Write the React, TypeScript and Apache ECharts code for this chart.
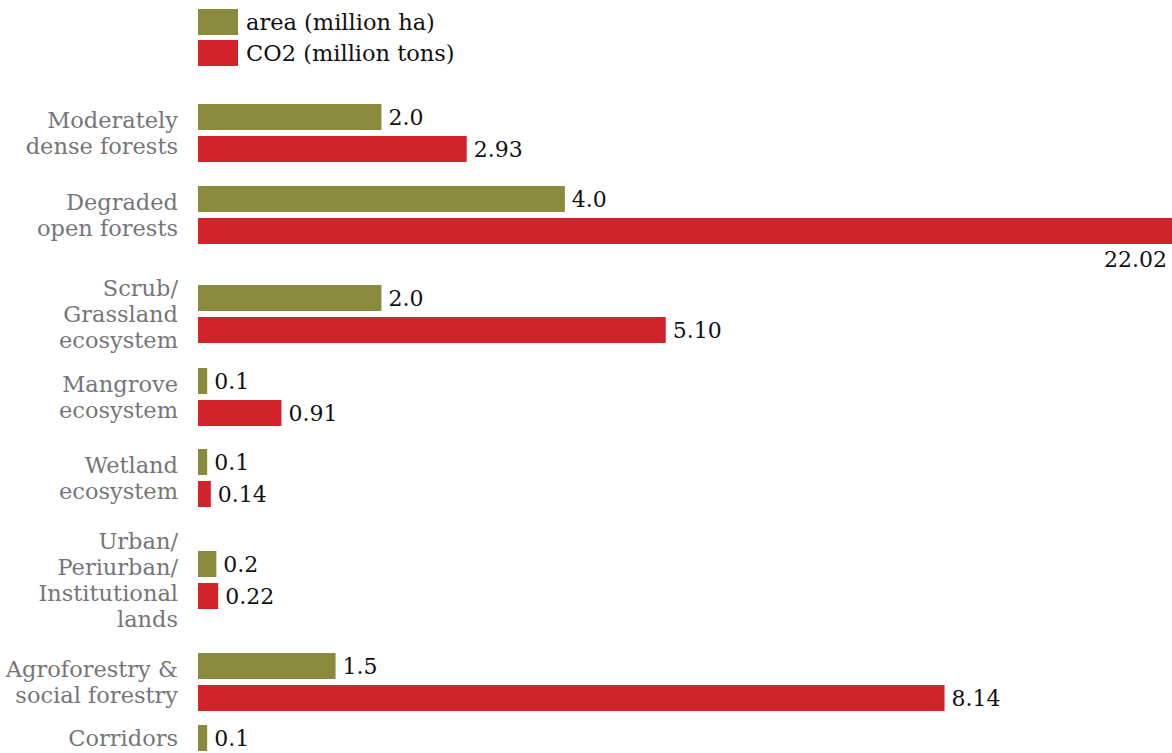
import React, { useEffect, useRef } from "react";
import * as echarts from "echarts";

const categories: string[] = [
  "Moderately\ndense forests",
  "Degraded\nopen forests",
  "Scrub/\nGrassland\necosystem",
  "Mangrove\necosystem",
  "Wetland\necosystem",
  "Urban/\nPeriurban/\nInstitutional\nlands",
  "Agroforestry &\nsocial forestry",
  "Corridors",
];
const areaValues: (number | null)[] = [2.0, 4.0, 2.0, 0.1, 0.1, 0.2, 1.5, 0.1];
const co2Values: (number | null)[] = [2.93, 22.02, 5.1, 0.91, 0.14, 0.22, 8.14, null];
const areaDecimals = 1;
const co2Decimals = 2;
const seriesNames = ["area (million ha)", "CO2 (million tons)"];

// layout (group tops in px)
const groupTops = [104, 186, 285, 368, 449, 551, 653, 725];
const BAR = 26;
const GAP = 6;
const LEFT = 198;
const XMAX = 10.62;
const FONT = "DejaVu Serif";
const AREA_COLOR = "#8a8a3d";
const CO2_COLOR = "#d2232a";

export default function App() {
  const ref = useRef<HTMLDivElement>(null);
  useEffect(() => {
    if (!ref.current) return;
    const chart = echarts.init(ref.current, null, { renderer: "svg" });
    const grids: any[] = [];
    const xAxes: any[] = [];
    const yAxes: any[] = [];
    const series: any[] = [];

    const mkLabel = (v: number, dec: number) => {
      if (v > XMAX) {
        return {
          show: true,
          position: ["100%", "100%"],
          align: "right",
          verticalAlign: "top",
          offset: [-5, 4],
          formatter: () => v.toFixed(dec),
        };
      }
      return { show: true, formatter: () => v.toFixed(dec) };
    };

    categories.forEach((cat, i) => {
      const hasCo2 = co2Values[i] != null;
      const h = hasCo2 ? BAR * 2 + GAP : BAR;
      grids.push({ left: LEFT, right: 0, top: groupTops[i], height: h });
      xAxes.push({ gridIndex: i, type: "value", min: 0, max: XMAX, show: false });
      yAxes.push({
        gridIndex: i,
        type: "category",
        inverse: true,
        data: [cat],
        axisLine: { show: false },
        axisTick: { show: false },
        splitLine: { show: false },
        axisLabel: {
          margin: 20,
          color: "#75757a",
          fontSize: 22.5,
          lineHeight: 26,
          fontFamily: FONT,
          align: "right",
        },
      });
      const baseLabel = {
        position: "right",
        distance: 7,
        color: "#111",
        fontSize: 22,
        fontFamily: FONT,
      };
      const a = areaValues[i];
      series.push({
        name: seriesNames[0],
        type: "bar",
        xAxisIndex: i,
        yAxisIndex: i,
        barWidth: BAR,
        barGap: `${(GAP / BAR) * 100}%`,
        itemStyle: { color: AREA_COLOR },
        label: baseLabel,
        data: a == null ? [] : [{ value: a, label: mkLabel(a, areaDecimals) }],
      });
      if (hasCo2) {
        const c = co2Values[i] as number;
        series.push({
          name: seriesNames[1],
          type: "bar",
          xAxisIndex: i,
          yAxisIndex: i,
          barWidth: BAR,
          barGap: `${(GAP / BAR) * 100}%`,
          itemStyle: { color: CO2_COLOR },
          label: baseLabel,
          data: [{ value: c, label: mkLabel(c, co2Decimals) }],
        });
      }
    });

    chart.setOption({
      animation: false,
      legend: {
        data: seriesNames,
        orient: "vertical",
        left: LEFT,
        top: 9,
        padding: 0,
        itemWidth: 40,
        itemHeight: 26,
        itemGap: 5,
        icon: "rect",
        selectedMode: false,
        textStyle: { fontSize: 22.5, color: "#111", fontFamily: FONT, padding: [0, 0, 0, 3] },
      },
      grid: grids,
      xAxis: xAxes,
      yAxis: yAxes,
      series,
    });
    return () => chart.dispose();
  }, []);
  return (
    <div
      ref={ref}
      style={{ position: "fixed", left: 0, top: 0, width: 1172, height: 753, background: "#fff" }}
    />
  );
}
